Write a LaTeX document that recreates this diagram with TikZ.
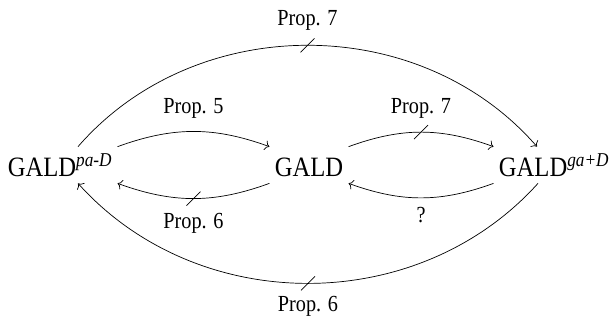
\documentclass[tikz,border=0pt]{standalone}
\usepackage{fontspec}
\setmainfont{Liberation Serif}[FakeStretch=0.88]
\usetikzlibrary{arrows.meta,decorations.markings}
\tikzset{
  model/.style={font=\fontsize{28}{32}\selectfont,text height=26pt,text depth=4pt,inner xsep=5pt,inner ysep=3pt},
  prop/.style={font=\fontsize{23}{27}\selectfont,inner sep=2pt},
  barred/.style={postaction={decorate,decoration={markings,mark=at position 0.5 with {\draw[-] (-7pt,-7pt)--(7pt,7pt);}}}}
}
\begin{document}
\begin{tikzpicture}[x=1pt,y=-1pt,line width=0.7pt,>={To[length=4.5pt,width=10pt]}]
    \useasboundingbox (0,0) rectangle (612,325);
    % Models
    \node [model,anchor=base] (pa) at (60,176) {GALD\textsuperscript{\itshape pa-D}};
    \node [model,anchor=base] (gald) at (309,176) {GALD};
    \node [model,anchor=base] (ga) at (554,176) {GALD\textsuperscript{\itshape ga+D}};

    % Inner arrows
    \draw [->] (pa.north east) to [bend left=20] node [prop,above=11pt] (l1) {Prop. 5} (gald.north west);
    \draw [->,barred] (gald.south west) to [bend left=20] node [prop,below=12pt] (l2) {Prop. 6} (pa.south east);
    \draw [->,barred] (gald.north east) to [bend left=20] node [prop,above=11pt] (l3) {Prop. 7} (ga.north west);
    \draw [->] (ga.south west) to [bend left=20] node [prop,below=7pt] (l4) {?} (gald.south east);

    % Outer arrows
    \draw [->,barred] ([xshift=18pt]pa.north) to [bend left=49] node [prop,above=13pt] (l5) {Prop. 7} ([xshift=-17pt]ga.north);
    \draw [->,barred] ([xshift=-16pt]ga.south) to [bend left=48] node [prop,below=11pt] (l6) {Prop. 6} ([xshift=18pt]pa.south);
\end{tikzpicture}
\end{document}
